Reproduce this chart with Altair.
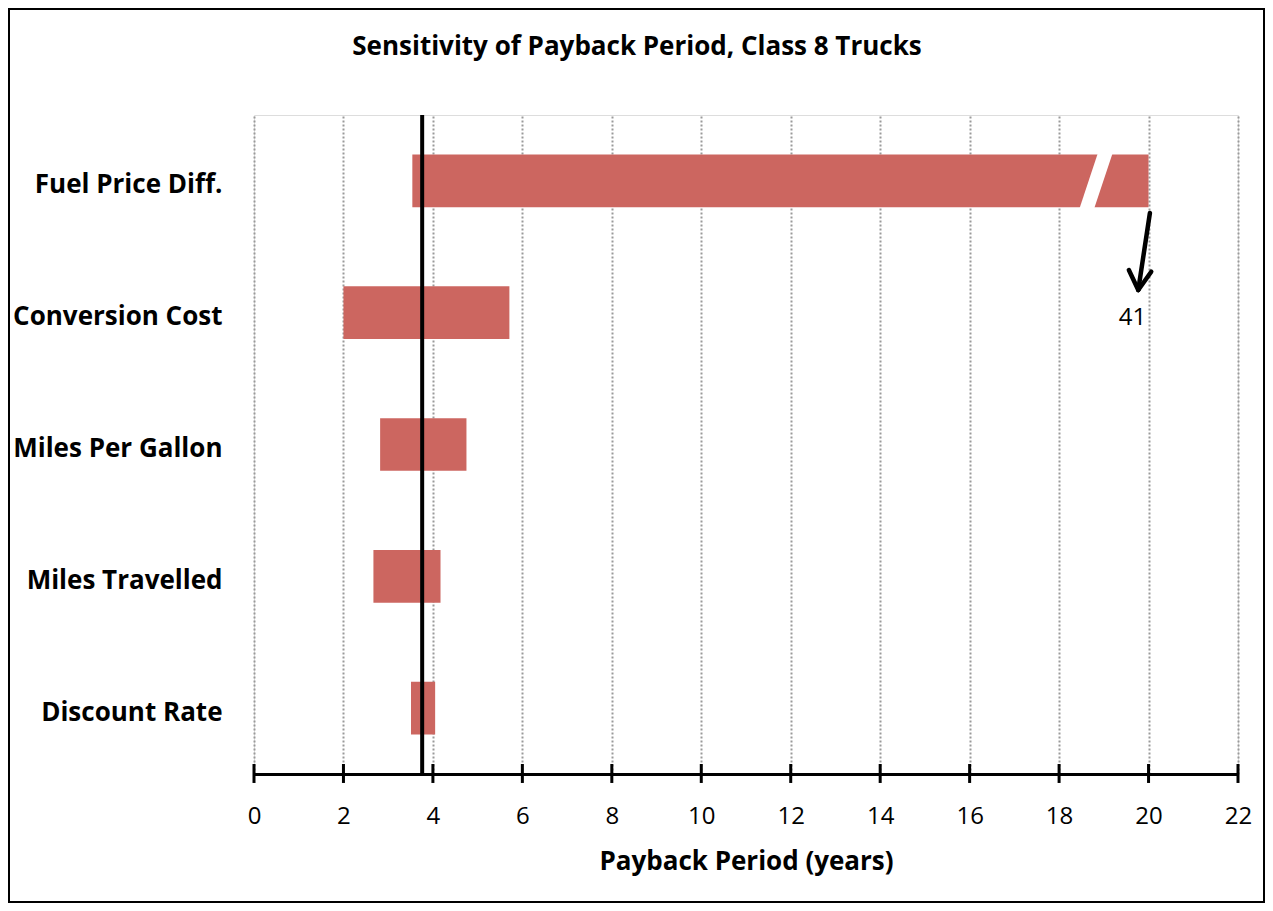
import altair as alt
import pandas as pd

# ---- data ----
categories = ["Fuel Price Diff.", "Conversion Cost", "Miles Per Gallon", "Miles Travelled", "Discount Rate"]
low = [3.54, 2.0, 2.82, 2.67, 3.51]
high = [41.0, 5.71, 4.75, 4.17, 4.05]
base_case = 3.76
axis_cap = 20
x_ticks = list(range(0, 23, 2))

# axis-break marker on the Fuel Price bar (x at bar top / bottom)
break_x = [19.07, 18.58]
break_y = [-0.25, 0.25]

# arrow pointing to the true value (41)
arrow_x = [20.03, 19.56, 20.06]
arrow_x2 = [19.77, 19.77, 19.77]
arrow_y = [0.244, 0.676, 0.689]
arrow_y2 = [0.828, 0.828, 0.828]
note_text = ["41"]
note_x = [19.64]
note_y = [1.04]

FONT = "Open Sans"
BAR_COLOR = "#CC6660"

bars_df = pd.DataFrame({"cat": categories, "idx": list(range(len(categories))), "low": low, "high": high})
xscale = alt.Scale(domain=[0, 22], nice=False, zero=False)
yscale = alt.Scale(domain=[-0.5, 4.5], nice=False, zero=False, reverse=True)

label_expr = "[" + ",".join("'" + c + "'" for c in categories) + "][datum.value]"

xaxis = alt.Axis(values=x_ticks, grid=True, gridDash=[2, 2], gridColor="#9a9a9a", gridWidth=2,
                 domainColor="black", domainWidth=3, ticks=False, labelFont=FONT, labelFontSize=24,
                 labelColor="black", labelPadding=30, labelFlush=False,
                 title="Payback Period (years)", titleFont=FONT, titleFontSize=26,
                 titleFontWeight="bold", titleColor="black", titlePadding=20)
yaxis = alt.Axis(values=list(range(len(categories))), labelExpr=label_expr, grid=False, domain=False,
                 ticks=False, labelFont=FONT, labelFontSize=26, labelFontWeight="bold",
                 labelColor="black", labelPadding=32, labelOffset=4, labelLimit=400, title=None)

bars = alt.Chart(bars_df).transform_calculate(
    hi=f"min(datum.high, {axis_cap})", y0="datum.idx - 0.2", y1="datum.idx + 0.2"
).mark_rect(color=BAR_COLOR).encode(
    x=alt.X("low:Q", scale=xscale, axis=xaxis),
    x2="hi:Q",
    y=alt.Y("y0:Q", scale=yscale, axis=yaxis),
    y2="y1:Q",
)

break_df = pd.DataFrame({"x": [break_x[0]], "x2": [break_x[1]], "y": [break_y[0]], "y2": [break_y[1]]})
brk = alt.Chart(break_df).mark_rule(color="white", strokeWidth=14).encode(
    x=alt.X("x:Q", scale=xscale), x2="x2:Q", y=alt.Y("y:Q", scale=yscale), y2="y2:Q")

base_df = pd.DataFrame({"x": [base_case], "y": [-0.5], "y2": [4.5]})
base = alt.Chart(base_df).mark_rule(color="black", strokeWidth=4).encode(
    x=alt.X("x:Q", scale=xscale), y=alt.Y("y:Q", scale=yscale), y2="y2:Q")

ticks_df = pd.DataFrame({"x": x_ticks, "y": [4.424] * len(x_ticks), "y2": [4.568] * len(x_ticks)})
ticks = alt.Chart(ticks_df).mark_rule(color="black", strokeWidth=3).encode(
    x=alt.X("x:Q", scale=xscale), y=alt.Y("y:Q", scale=yscale), y2="y2:Q")

arrow_df = pd.DataFrame({"x": arrow_x, "x2": arrow_x2, "y": arrow_y, "y2": arrow_y2})
arrow = alt.Chart(arrow_df).mark_rule(color="black", strokeWidth=4.5, strokeCap="round").encode(
    x=alt.X("x:Q", scale=xscale), x2="x2:Q", y=alt.Y("y:Q", scale=yscale), y2="y2:Q")

note_df = pd.DataFrame({"t": note_text, "x": note_x, "y": note_y})
note = alt.Chart(note_df).mark_text(font=FONT, fontSize=24, color="black", align="center", baseline="middle").encode(
    x=alt.X("x:Q", scale=xscale), y=alt.Y("y:Q", scale=yscale), text="t:N")

title = alt.Chart(pd.DataFrame({"t": ["Sensitivity of Payback Period, Class 8 Trucks"]})).mark_text(
    font=FONT, fontSize=26, fontWeight="bold", color="black", align="center", baseline="middle"
).encode(x=alt.value(383), y=alt.value(-68), text="t:N")

frame = alt.Chart(pd.DataFrame({"a": [0]})).mark_rect(filled=False, stroke="black", strokeWidth=2).encode(
    x=alt.value(-245), x2=alt.value(1010), y=alt.value(-106), y2=alt.value(787))

chart = alt.layer(bars, brk, base, ticks, arrow, note, title, frame).properties(
    width=984, height=659,
    autosize=alt.AutoSizeParams(type="none"),
    padding={"left": 246, "top": 107, "right": 27, "bottom": 129},
).configure_view(stroke=None).configure(background="white")

chart.save("out.html", embed_options={"renderer": "svg", "actions": False})
